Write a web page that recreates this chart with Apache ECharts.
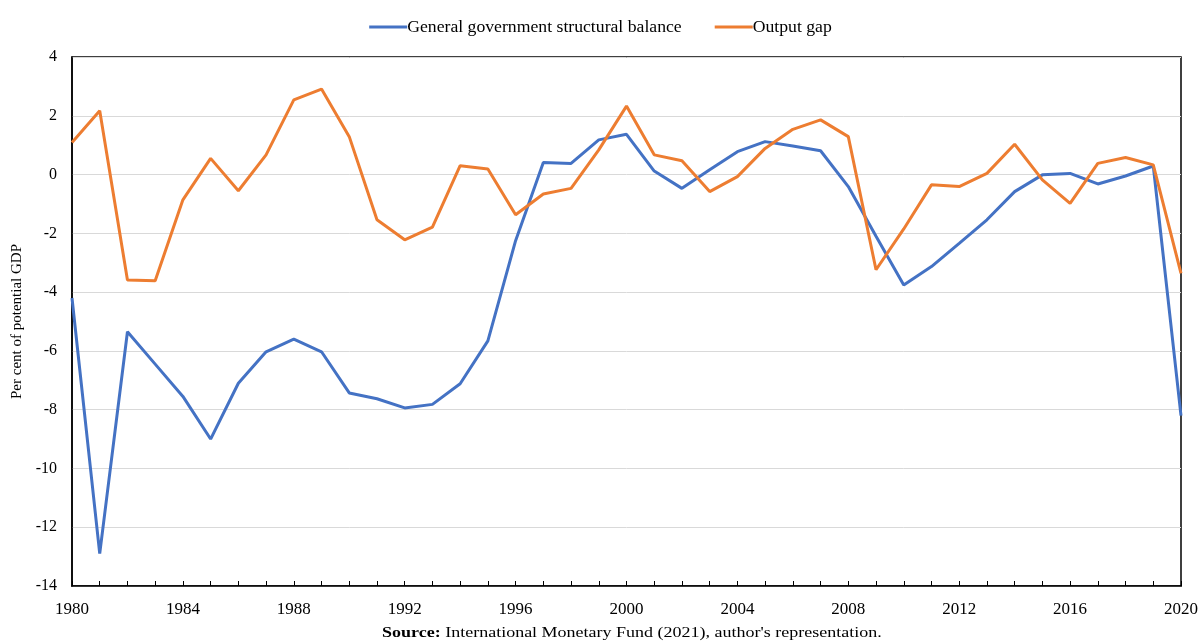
<!DOCTYPE html>
<html>
<head>
<meta charset="utf-8">
<script src="https://cdn.jsdelivr.net/npm/echarts@6/dist/echarts.min.js"></script>
<style>html,body{margin:0;padding:0;background:#fff}#c{width:1201px;height:642px}</style>
</head>
<body>
<div id="c"></div>
<script>
const years = [];
for (let y = 1980; y <= 2020; y++) years.push(String(y));

const structuralBalance = [-4.2, -12.9, -5.35, -6.45, -7.55, -9.0, -7.1, -6.03, -5.6, -6.03,
  -7.43, -7.63, -7.94, -7.82, -7.12, -5.66, -2.25, 0.41, 0.38, 1.18,
  1.37, 0.12, -0.47, 0.16, 0.78, 1.12, 0.97, 0.81, -0.41, -2.1,
  -3.76, -3.13, -2.34, -1.54, -0.58, -0.01, 0.04, -0.32, -0.05, 0.29, -8.2];

const outputGap = [1.09, 2.17, -3.59, -3.61, -0.86, 0.55, -0.55, 0.67, 2.54, 2.91,
  1.29, -1.54, -2.22, -1.79, 0.30, 0.19, -1.37, -0.66, -0.47, 0.84,
  2.33, 0.67, 0.47, -0.58, -0.07, 0.89, 1.54, 1.86, 1.29, -3.24,
  -1.85, -0.35, -0.41, 0.04, 1.03, -0.18, -0.98, 0.38, 0.58, 0.33, -3.36];

const seriesNames = ['General government structural balance', 'Output gap'];
const yTicks = { min: -14, max: 4, interval: 2 };

const font = 'Liberation Serif, Times New Roman, serif';
const chart = echarts.init(document.getElementById('c'), null, { renderer: 'canvas' });
chart.setOption({
  animation: false,
  textStyle: { fontFamily: font, color: '#000' },
  legend: {
    top: 13, left: 'center',
    itemWidth: 38, itemHeight: 3, itemGap: 33,
    icon: 'rect',
    textStyle: { fontFamily: font, fontSize: 17.7, color: '#000', padding: [0, 0, 0, -5] },
    data: seriesNames
  },
  grid: { left: 72, right: 18, top: 57, bottom: 56, show: true, borderColor: '#000', borderWidth: 1.5, backgroundColor: 'transparent' },
  xAxis: {
    type: 'category', data: years, boundaryGap: false,
    axisLine: { onZero: false, lineStyle: { color: '#000', width: 1.5 } },
    axisTick: { inside: true, interval: 0, length: 5, lineStyle: { color: '#000' } },
    axisLabel: { interval: 3, fontFamily: font, fontSize: 17, color: '#000', margin: 15 },
    splitLine: { show: false }
  },
  yAxis: {
    type: 'value', min: yTicks.min, max: yTicks.max, interval: yTicks.interval,
    name: 'Per cent of potential GDP', nameLocation: 'middle', nameGap: 47, nameRotate: 90,
    nameTextStyle: { fontFamily: font, fontSize: 15, color: '#000' },
    axisLine: { show: true, lineStyle: { color: '#000', width: 1.5 } },
    axisTick: { show: false },
    axisLabel: { fontFamily: font, fontSize: 16, color: '#000', margin: 15 },
    splitLine: { lineStyle: { color: '#d9d9d9', width: 1 } }
  },
  series: [
    { name: seriesNames[0], type: 'line', data: structuralBalance, showSymbol: false, symbol: 'none',
      lineStyle: { color: '#4472C4', width: 3 }, itemStyle: { color: '#4472C4' } },
    { name: seriesNames[1], type: 'line', data: outputGap, showSymbol: false, symbol: 'none',
      lineStyle: { color: '#ED7D31', width: 3 }, itemStyle: { color: '#ED7D31' } }
  ],
  graphic: [{
    type: 'text', x: 382, y: 626, scaleX: 1.2,
    style: {
      text: '{b|Source:} International Monetary Fund (2021), author\'s representation.',
      rich: { b: { fontWeight: 'bold', fontFamily: font, fontSize: 15, fill: '#000' } },
      fontFamily: font, fontSize: 15, fill: '#000'
    }
  }]
});
</script>
</body>
</html>
